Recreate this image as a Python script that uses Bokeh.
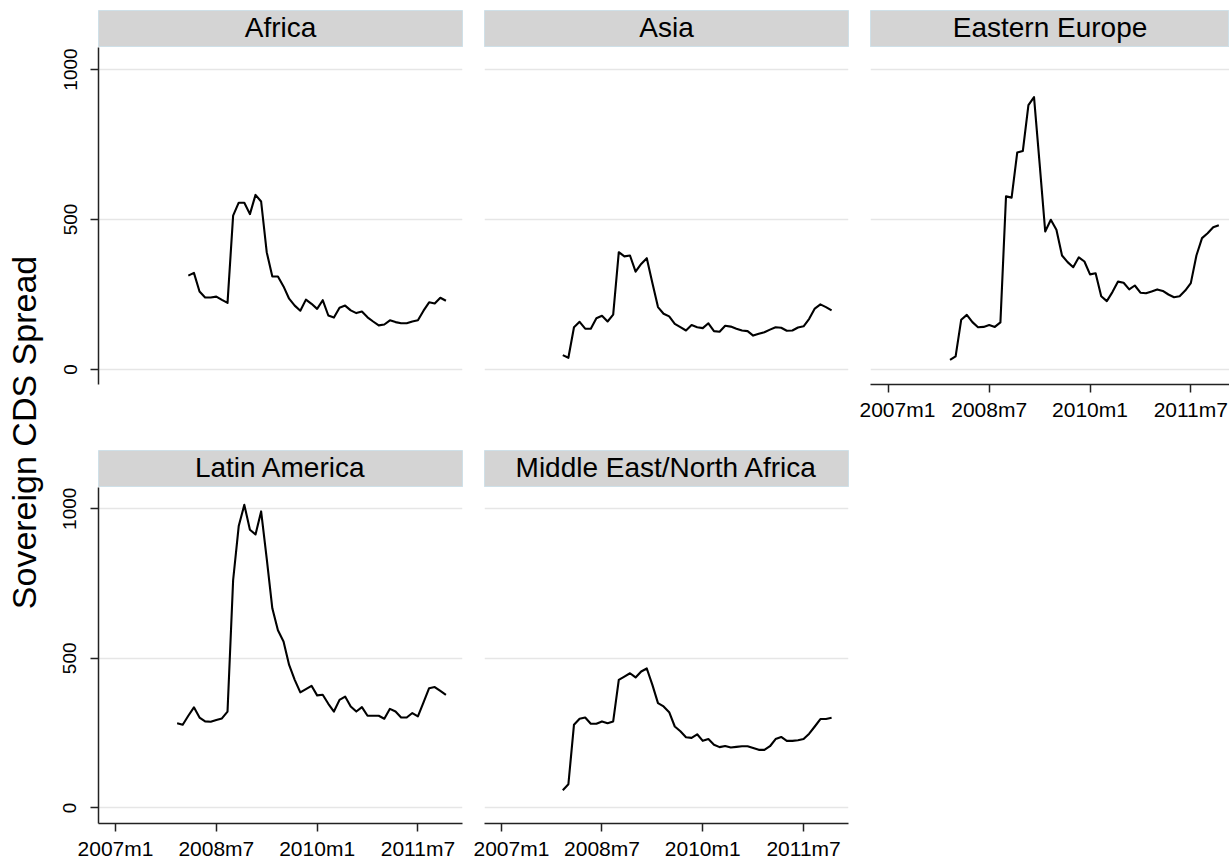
import math
from bokeh.plotting import figure
from bokeh.layouts import row, column
from bokeh.models import FixedTicker, Range1d
from bokeh.embed import file_html
from bokeh.resources import INLINE
from bokeh.core.properties import value

# ---------------- data ----------------
regions = ["Africa", "Asia", "Eastern Europe", "Latin America", "Middle East/North Africa"]
start_months = ["2008m2", "2007m12", "2007m12", "2007m12", "2007m12"]

africa = [313, 322, 260, 240, 240, 243, 232, 222, 513, 556, 556, 518, 582, 560, 391, 310,
          310, 277, 236, 213, 196, 233, 219, 202, 231, 180, 173, 206, 213, 197, 188, 193,
          174, 160, 147, 150, 164, 158, 154, 154, 160, 164, 196, 224, 220, 239, 229]
asia = [48, 39, 141, 159, 136, 136, 171, 179, 160, 183, 391, 377, 380, 326, 352, 371,
        288, 208, 186, 177, 152, 141, 130, 148, 141, 138, 154, 128, 126, 146, 143, 136,
        130, 128, 113, 119, 124, 133, 141, 139, 129, 130, 140, 144, 169, 203, 217, 208, 197]
eastern_europe = [32, 44, 166, 182, 158, 141, 142, 148, 142, 157, 577, 573, 723, 728, 881, 908,
                  686, 460, 499, 466, 380, 358, 341, 374, 360, 317, 321, 244, 228, 258, 293, 289,
                  267, 280, 256, 254, 260, 267, 262, 250, 241, 244, 263, 288, 380, 438, 454, 474, 481]
latin_america = [283, 278, 308, 336, 302, 289, 288, 294, 299, 322, 761, 942, 1013, 930, 914, 991,
                 833, 667, 594, 556, 478, 428, 386, 397, 408, 376, 378, 348, 322, 361, 372, 339,
                 322, 337, 308, 308, 308, 298, 331, 322, 302, 302, 317, 306, 353, 400, 404, 391, 378]
mena = [59, 79, 278, 298, 302, 281, 281, 289, 283, 289, 428, 439, 450, 436, 456, 466,
        411, 350, 339, 320, 272, 256, 236, 234, 246, 224, 230, 211, 203, 207, 202, 204,
        206, 206, 200, 194, 194, 206, 230, 237, 224, 224, 226, 230, 248, 272, 297, 297, 301]
series = [africa, asia, eastern_europe, latin_america, mena]

x_tick_values = [0, 18, 36, 54]          # months since 2007m1
x_tick_labels = ["2007m1", "2008m7", "2010m1", "2011m7"]
y_tick_values = [0, 500, 1000]
y_title = "Sovereign CDS Spread"

# ---------------- helpers ----------------
FONT = value("Liberation Sans")


def month_index(label):
    y, m = label.split("m")
    return (int(y) - 2007) * 12 + int(m) - 1


def strip(name, b_left, frame_w, b_right, top, h):
    s = figure(width=b_left + frame_w + b_right, height=h + top,
               x_range=Range1d(0, 1), y_range=Range1d(0, 1),
               x_axis_location=None, y_axis_location=None,
               toolbar_location=None, output_backend="svg",
               min_border_left=b_left, min_border_right=b_right,
               min_border_top=top, min_border_bottom=0)
    s.grid.visible = False
    s.background_fill_color = "#d4d4d4"
    s.border_fill_color = "white"
    s.outline_line_color = "#cfe0e8"
    s.outline_line_width = 1
    s.text(x=[0.5], y=[0.55], text=[name], text_align="center", text_baseline="middle",
           text_font=FONT, text_font_size="28px", text_color="black")
    return s


def panel(vals, start, b_left, frame_w, b_right, frame_h, b_bottom, xr, yr, show_x, show_y):
    p = figure(width=b_left + frame_w + b_right, height=frame_h + b_bottom,
               x_range=Range1d(*xr), y_range=Range1d(*yr),
               x_axis_location="below" if show_x else None,
               y_axis_location="left" if show_y else None,
               toolbar_location=None, output_backend="svg",
               min_border_left=b_left, min_border_right=b_right,
               min_border_top=0, min_border_bottom=b_bottom)
    p.outline_line_color = None
    p.background_fill_color = "white"
    p.xgrid.visible = False
    p.ygrid.ticker = FixedTicker(ticks=y_tick_values)
    p.ygrid.grid_line_color = "#e6e6e6"
    p.ygrid.grid_line_width = 1.6
    if show_x:
        ax = p.xaxis[0]
        ax.ticker = FixedTicker(ticks=x_tick_values)
        ax.major_label_overrides = {v: l for v, l in zip(x_tick_values, x_tick_labels)}
        ax.major_label_text_font = "Liberation Sans"
        ax.major_label_text_font_size = "21px"
        ax.major_label_text_color = "black"
        ax.major_label_standoff = 5
        ax.major_tick_out = 8
        ax.major_tick_in = 0
        ax.minor_tick_line_color = None
        ax.axis_line_color = "#222222"
        ax.axis_line_width = 1.5
        ax.major_tick_line_color = "#222222"
        ax.major_tick_line_width = 1.5
    if show_y:
        ay = p.yaxis[0]
        ay.ticker = FixedTicker(ticks=y_tick_values)
        ay.major_label_orientation = "vertical"
        ay.major_label_text_font = "Liberation Sans"
        ay.major_label_text_font_size = "19px"
        ay.major_label_text_color = "black"
        ay.major_label_standoff = 14
        ay.major_tick_out = 8
        ay.major_tick_in = 0
        ay.minor_tick_line_color = None
        ay.axis_line_color = "#222222"
        ay.axis_line_width = 1.5
        ay.major_tick_line_color = "#222222"
        ay.major_tick_line_width = 1.5
    s0 = month_index(start)
    xs = [s0 + i for i in range(len(vals))]
    p.line(xs, vals, line_color="black", line_width=2.1, line_join="round")
    return p


# ---------------- layout ----------------
PX_MONTH = 5.6
PX_UNIT = 0.3
TITLE_W = 48
cols = [  # (border_left, frame_w, border_right, x_start)
    (50, 364, 11, -3.04),
    (11, 364, 11, -2.98),
    (11, 359, 0, -3.2),
]
rows_spec = [  # (strip_top, strip_h, frame_h, border_bottom, y_bottom)
    (10, 37, 337, 66, -50.0),
    (0, 37, 337, 38, -52.3),
]

cells = []
for i, (name, vals, start) in enumerate(zip(regions, series, start_months)):
    r, c = divmod(i, 3)
    bl, fw, br, x0 = cols[c]
    top, sh, fh, bb, y0 = rows_spec[r]
    xr = (x0, x0 + fw / PX_MONTH)
    yr = (y0, y0 + fh / PX_UNIT)
    show_x = (r == 1) or (c == 2)
    show_y = (c == 0)
    s = strip(name, bl, fw, br, top, sh)
    p = panel(vals, start, bl, fw, br, fh, bb, xr, yr, show_x, show_y)
    cells.append(column(s, p, spacing=0))

TOTAL_H = sum(top + sh + fh + bb for top, sh, fh, bb, _ in rows_spec)
t = figure(width=TITLE_W, height=TOTAL_H, x_range=Range1d(0, TITLE_W), y_range=Range1d(0, TOTAL_H),
           x_axis_location=None, y_axis_location=None, toolbar_location=None,
           output_backend="svg", min_border=0)
t.outline_line_color = None
t.grid.visible = False
t.text(x=[23], y=[TOTAL_H - 432], text=[y_title], angle=math.pi / 2,
       text_align="center", text_baseline="middle", text_font=FONT,
       text_font_size="34px", text_color="black")

grid = column(row(cells[0], cells[1], cells[2], spacing=0),
              row(cells[3], cells[4], spacing=0), spacing=0)
layout = row(t, grid, spacing=0)

open("out.html", "w").write(file_html(layout, INLINE))
